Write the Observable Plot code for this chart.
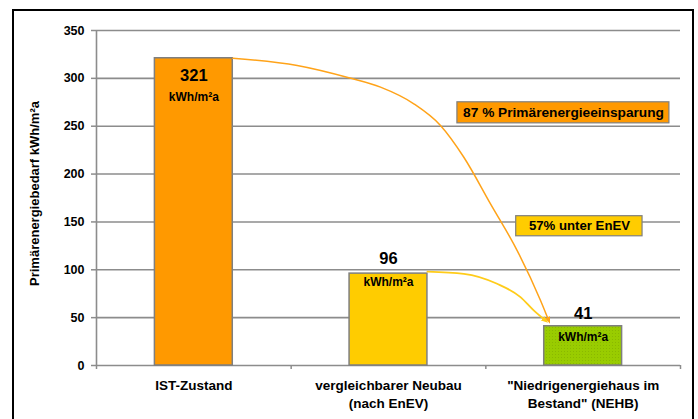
<!DOCTYPE html>
<html>
<head>
<meta charset="utf-8">
<script src="https://cdn.jsdelivr.net/npm/d3@7"></script>
<script src="https://cdn.jsdelivr.net/npm/@observablehq/plot@0.6"></script>
<style>
  html, body { margin: 0; padding: 0; background: #fff; }
  #wrap { position: relative; width: 698px; height: 419px; overflow: hidden; background: #fff; }
  #wrap svg { position: absolute; left: 0; top: 0; }
  #border { position: absolute; left: 12px; top: 9px; width: 678px; height: 430px;
            border: 2px solid #000; border-bottom: none; pointer-events: none; }
</style>
</head>
<body>
<div id="wrap"><div id="border"></div></div>
<script>
// ---- data ----
const categories = ["IST-Zustand", "vergleichbarer Neubau\n(nach EnEV)", "\"Niedrigenergiehaus im\nBestand\" (NEHB)"];
const values = [321, 96, 41];
const unitLabel = "kWh/m²a";
const yTicks = [0, 50, 100, 150, 200, 250, 300, 350];
const yTitle = "Primärenergiebedarf kWh/m²a";

// annotation texts and their anchors (data units)
const notes = ["87 % Primärenergieeinsparung", "57% unter EnEV"];
const noteX = [1.899, 1.981];
const noteY = [263.8, 145.5];
const noteX1 = [1.354, 1.656];
const noteX2 = [2.443, 2.305];
const noteY1 = [253, 135];
const noteY2 = [275, 156];

// arrow curves (data units, category index on x)
const orangeCurveX = [0.2, 0.531, 0.796, 0.959, 1.130, 1.267, 1.387, 1.524, 1.661, 1.781, 1.823];
const orangeCurveY = [321, 313.4, 300.6, 290.8, 273.4, 250.8, 217.6, 168.9, 120.1, 67.9, 47];
const yellowCurveX = [1.2, 1.387, 1.558, 1.678, 1.746, 1.806];
const yellowCurveY = [98, 95.8, 85.4, 71.4, 57.5, 47];

// ---- styles ----
const barColors = ["#ff9900", "#ffcc00", "#99cc00"];
const noteColors = ["#ff9900", "#ffcc00"];
const grid = "#8c8c8c";
const valueDy = [17, -15, -13];
const unitDy = [39, 9, 10.5];

function tri(color, context) {
  const m = d3.create("svg:marker")
    .attr("viewBox", "-5 -5 10 10")
    .attr("markerWidth", 7).attr("markerHeight", 7)
    .attr("markerUnits", "userSpaceOnUse")
    .attr("orient", "auto")
    .attr("fill", color).attr("stroke", "none");
  m.append("path").attr("d", "M-5,-4L5,0L-5,4Z");
  return m.node();
}

const idx = values.map((d, i) => i);

const chart = Plot.plot({
  width: 698, height: 419,
  marginLeft: 96, marginRight: 18, marginTop: 30, marginBottom: 54,
  x: {domain: [-0.5, 2.5], axis: null},
  y: {domain: [0, 350], axis: null},
  style: {fontFamily: "'Liberation Sans', Arial, sans-serif", fontWeight: "bold", background: "transparent", color: "#000"},
  marks: [
    Plot.ruleY(yTicks.filter(t => t > 0), {stroke: grid, strokeWidth: 1.6}),
    Plot.axisY({ticks: yTicks, tickSize: 5, tickPadding: 7, fontSize: 12.5, stroke: grid, strokeWidth: 1.5, label: null}),
    Plot.text([yTitle], {frameAnchor: "left", textAnchor: "middle", rotate: -90, dx: -62, dy: -4.5, fontSize: 13}),
    Plot.axisX({ticks: [-0.5, 0.5, 1.5, 2.5], tickSize: 4, tickFormat: () => "", stroke: grid, strokeWidth: 1.5, label: null}),
    Plot.axisX({ticks: [0, 1, 2], tickSize: 0, tickPadding: 12, tickFormat: i => categories[i], fontSize: 13.5, lineHeight: 1.32, label: null}),
    Plot.ruleX([-0.5], {y1: 0, y2: 350, stroke: grid, strokeWidth: 1.6}),
    Plot.ruleY([0], {stroke: grid, strokeWidth: 1.6}),
    Plot.rect(idx, {x1: i => i - 0.2, x2: i => i + 0.2, y1: 0, y2: i => values[i], fill: i => barColors[i], stroke: "#7f7f7f", strokeWidth: 1.5, className: "bars"}),
    ...idx.map(i => Plot.text([values[i]], {x: i, y: values[i], dy: valueDy[i], text: d => String(d), fontSize: 16.5})),
    ...idx.map(i => Plot.text([unitLabel], {x: i, y: values[i], dy: unitDy[i], fontSize: 12})),
    Plot.line(orangeCurveX.map((x, i) => [x, orangeCurveY[i]]), {x: d => d[0], y: d => d[1], curve: "monotone-x", stroke: "#ffa319", strokeWidth: 1.5, markerEnd: tri}),
    Plot.line(yellowCurveX.map((x, i) => [x, yellowCurveY[i]]), {x: d => d[0], y: d => d[1], curve: "monotone-x", stroke: "#ffcc1a", strokeWidth: 1.8, markerEnd: tri}),
    Plot.rect([0, 1], {x1: i => noteX1[i], x2: i => noteX2[i], y1: i => noteY1[i], y2: i => noteY2[i], fill: i => noteColors[i], stroke: "#7f7f7f", strokeWidth: 1.2}),
    Plot.text([0, 1], {x: i => noteX[i], y: i => noteY[i], text: i => notes[i], fontSize: i => [13.7, 13.2][i]})
  ]
});

// dotted texture on the green bar
const svg = d3.select(chart);
const defs = svg.insert("defs", ":first-child");
const pat = defs.append("pattern").attr("id", "greenDots").attr("patternUnits", "userSpaceOnUse")
  .attr("width", 3).attr("height", 3);
pat.append("rect").attr("width", 3).attr("height", 3).attr("fill", "#99cc00");
pat.append("rect").attr("x", 0).attr("y", 0).attr("width", 1).attr("height", 1).attr("fill", "#8ab800");
svg.selectAll("g.bars rect").filter((d, i, n) => i === 2).attr("fill", "url(#greenDots)");

document.getElementById("wrap").insertBefore(chart, document.getElementById("border"));
</script>
</body>
</html>
